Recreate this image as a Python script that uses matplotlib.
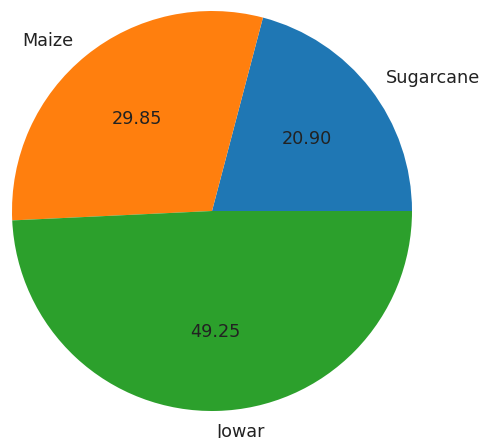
import matplotlib.pyplot as plt

crops = ['Sugarcane', 'Maize', 'Jowar']
shares = [20.90, 29.85, 49.25]

fig = plt.figure(figsize=(4.88, 4.39), dpi=100)
ax = fig.add_axes([0, 0, 1, 1])

ax.pie(shares, labels=crops, autopct='%.2f',
       textprops={'fontsize': 12.7, 'color': '#222222'})

# pie center at about (212, 212) px, radius 200 px
ax.set_xlim(-1.06, 1.38)
ax.set_ylim(-1.135, 1.06)
ax.set_aspect('auto')

fig.savefig('out.png', dpi=100)
